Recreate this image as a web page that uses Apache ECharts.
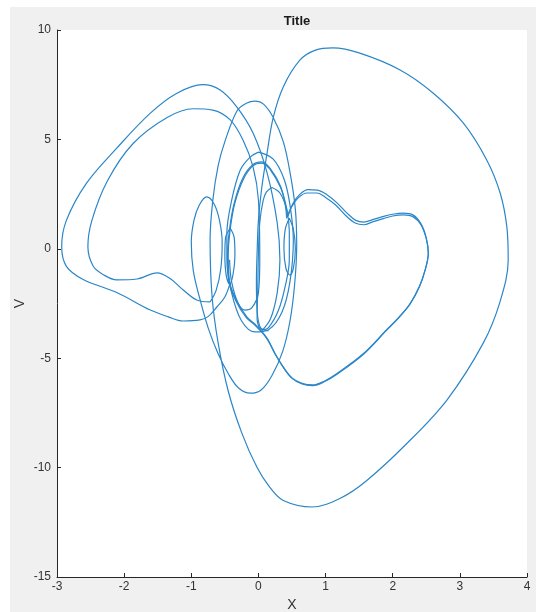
<!DOCTYPE html>
<html><head><meta charset="utf-8">
<script src="https://cdn.jsdelivr.net/npm/echarts@6/dist/echarts.min.js"></script>
<style>html,body{margin:0;padding:0;background:#fff}#c{width:536px;height:612px}</style>
</head><body><div id="c"></div>
<script>
// Axis ticks
const xTicks = [-3, -2, -1, 0, 1, 2, 3, 4];
const vTicks = [-15, -10, -5, 0, 5, 10];

// Trajectory strokes, [x, v]
const bigLoop = [[0.15,-3.75],[0.03,-3.6],[-0.02,-2.8],[-0.03,-1.5],[-0.02,-0.2],[0.0,1.3],[0.05,2.8],[0.13,4.4],[0.22,6.0],[0.37,7.4],[0.62,8.63],[0.85,9.08],[1.11,9.18],[1.51,8.94],[2.11,8.17],[2.6,7.12],[3.05,5.75],[3.4,4.06],[3.6,2.55],[3.7,1.0],[3.72,-0.51],[3.6,-2.4],[3.35,-4.3],[2.81,-6.9],[2.21,-8.9],[1.61,-10.6],[1.22,-11.4],[0.8,-11.8],[0.37,-11.5],[0.17,-10.9],[-0.02,-10.0],[-0.25,-8.4],[-0.45,-6.5],[-0.6,-4.3],[-0.69,-2.2],[-0.72,0.4],[-0.68,2.2],[-0.6,3.8],[-0.5,4.9],[-0.32,6.3],[-0.18,6.65],[-0.05,6.75],[0.08,6.6],[0.22,6.0],[0.37,4.9],[0.47,3.5],[0.55,1.8],[0.57,0.2],[0.54,-1.6],[0.47,-3.3],[0.36,-4.7],[0.2,-5.8],[0.04,-6.45],[-0.12,-6.6],[-0.3,-6.35],[-0.45,-5.7],[-0.6,-4.8],[-0.75,-3.6],[-0.88,-2.2],[-0.97,-1.0],[-1.0,0.3],[-0.96,1.3],[-0.88,2.0],[-0.77,2.37],[-0.66,2.05],[-0.58,1.3],[-0.54,0.3],[-0.56,-0.9],[-0.63,-1.9],[-0.72,-2.43]];
const innerLeft = [[-0.72,-2.43],[-0.92,-2.34],[-1.12,-1.88],[-1.32,-1.35],[-1.51,-1.1],[-1.81,-1.38],[-2.11,-1.42],[-2.3,-1.2],[-2.46,-0.8],[-2.54,0.1],[-2.48,1.3],[-2.25,3.1],[-1.87,4.8],[-1.36,6.0],[-0.97,6.4],[-0.68,6.34],[-0.42,5.89],[-0.23,4.97],[-0.08,3.74],[0.0,2.23],[0.02,-0.51],[0.0,-2.0],[-0.1,-2.7],[-0.2,-2.8],[-0.3,-2.5],[-0.4,-1.5],[-0.43,-0.5]];
const narrowLeft = [[-0.42,0.94],[-0.36,0.5],[-0.35,-0.3],[-0.38,-1.2],[-0.43,-1.6],[-0.48,-1.2],[-0.5,-0.3],[-0.49,0.5],[-0.42,0.94]];
const outerLeft = [[-0.42,-1.56],[-0.5,-2.2],[-0.62,-2.66],[-0.75,-3.1],[-0.87,-3.25],[-1.12,-3.3],[-1.35,-3.1],[-1.61,-2.8],[-2.11,-2.0],[-2.61,-1.4],[-2.86,-0.8],[-2.93,0.1],[-2.86,1.3],[-2.56,3.0],[-2.11,4.6],[-1.61,6.2],[-1.22,7.1],[-0.83,7.5],[-0.57,7.26],[-0.32,6.48],[-0.08,5.29],[0.13,3.46],[0.28,1.18],[0.32,-0.51],[0.28,-2.0],[0.18,-3.2],[0.05,-3.75]];
const ring44 = [[0.0,4.42],[0.22,4.1],[0.38,3.2],[0.47,2.0],[0.52,0.4],[0.47,-1.5],[0.35,-2.9],[0.15,-3.7],[-0.05,-3.8],[-0.25,-3.3],[-0.4,-2.0],[-0.47,-0.5],[-0.47,0.7],[-0.4,2.2],[-0.27,3.6],[-0.12,4.2],[0.0,4.42]];
const ring28 = [[0.2,2.8],[0.32,2.55],[0.42,1.8],[0.46,0.8],[0.46,-0.5],[0.4,-1.7],[0.3,-2.8],[0.15,-3.6],[0.05,-3.7],[-0.02,-3.2],[-0.01,-1.8],[0.0,-0.2],[0.02,1.2],[0.07,2.2],[0.12,2.6],[0.2,2.8]];
const narrowRight = [[0.46,1.4],[0.52,0.9],[0.55,0.0],[0.52,-0.9],[0.47,-1.2],[0.41,-0.9],[0.38,0.0],[0.4,0.9],[0.46,1.4]];
const heartA = [[0.44,1.5],[0.52,2.1],[0.62,2.5],[0.74,2.7],[0.88,2.68],[1.02,2.47],[1.17,2.1],[1.32,1.63],[1.45,1.3],[1.57,1.22],[1.7,1.33],[1.85,1.47],[2.0,1.58],[2.16,1.63],[2.3,1.55],[2.42,1.15],[2.5,0.5],[2.53,-0.2],[2.48,-1.0],[2.4,-1.7],[2.26,-2.5],[2.1,-3.1],[1.91,-3.7],[1.56,-4.8],[1.17,-5.7],[0.98,-6.05],[0.81,-6.22],[0.65,-6.15],[0.5,-5.9],[0.37,-5.4],[0.25,-4.8],[0.12,-4.05],[-0.05,-3.45],[-0.17,-3.12],[-0.32,-2.4],[-0.43,-1.5],[-0.45,-0.3],[-0.42,0.9],[-0.35,2.1],[-0.22,3.2],[-0.08,3.8],[0.05,3.92],[0.18,3.6],[0.33,2.8],[0.41,2.0],[0.44,1.5]];
const heartB = [[0.42,1.4],[0.5,1.95],[0.6,2.35],[0.72,2.55],[0.87,2.55],[1.0,2.35],[1.15,2.0],[1.3,1.52],[1.44,1.18],[1.57,1.1],[1.7,1.23],[1.86,1.38],[2.0,1.5],[2.16,1.55],[2.3,1.47],[2.42,1.1],[2.5,0.45],[2.53,-0.2],[2.48,-1.0],[2.4,-1.72],[2.26,-2.52],[2.1,-3.12],[1.91,-3.72],[1.56,-4.83],[1.17,-5.73],[0.98,-6.08],[0.81,-6.25],[0.65,-6.18],[0.5,-5.92],[0.37,-5.42],[0.25,-4.82],[0.12,-4.08],[-0.05,-3.5],[-0.18,-3.15],[-0.33,-2.42],[-0.44,-1.5],[-0.46,-0.3],[-0.43,0.9],[-0.36,2.1],[-0.23,3.25],[-0.08,3.85],[0.05,3.97],[0.18,3.65],[0.33,2.85],[0.4,2.0],[0.42,1.4]];

const strokes = [bigLoop, innerLeft, narrowLeft, outerLeft, ring44, ring28, narrowRight, heartA, heartB];

const chart = echarts.init(document.getElementById('c'), null, {renderer: 'canvas'});
const axisCol = '#333333';
const font = 'Liberation Sans, Arial, sans-serif';
chart.setOption({
  backgroundColor: '#ffffff',
  animation: false,
  graphic: [{type: 'rect', z: -10, shape: {x: 10, y: 7, width: 526, height: 605}, style: {fill: '#f0f0f0'}}],
  title: {text: 'Title', left: 292, top: 10, textAlign: 'center',
    textStyle: {fontFamily: font, fontSize: 13, fontWeight: 'bold', color: '#1a1a1a'}},
  grid: {left: 57, right: 9, top: 30, bottom: 35, containLabel: false, outerBoundsMode: 'none',
    show: true, backgroundColor: '#ffffff', borderWidth: 0},
  xAxis: {type: 'value', min: -3, max: 4, interval: 1, name: 'X', nameLocation: 'middle', nameGap: 20,
    nameTextStyle: {fontFamily: font, fontSize: 14, color: axisCol},
    axisLine: {show: true, onZero: false, lineStyle: {color: '#262626', width: 1}},
    axisTick: {show: true, inside: true, length: 4, lineStyle: {color: '#262626'}},
    axisLabel: {color: axisCol, fontFamily: font, fontSize: 12, margin: 4,
      formatter: v => xTicks.includes(v) ? String(v) : ''},
    splitLine: {show: false}},
  yAxis: {type: 'value', min: -15, max: 10, interval: 5, name: 'V', nameLocation: 'middle', nameGap: 30,
    nameMoveOverlap: false,
    nameTextStyle: {fontFamily: font, fontSize: 14, color: axisCol},
    axisLine: {show: true, onZero: false, lineStyle: {color: '#262626', width: 1}},
    axisTick: {show: true, inside: true, length: 4, lineStyle: {color: '#262626'}},
    axisLabel: {color: axisCol, fontFamily: font, fontSize: 12, margin: 6,
      formatter: v => vTicks.includes(v) ? String(v) : ''},
    splitLine: {show: false}},
  series: strokes.map(s => ({type: 'line', data: s, showSymbol: false, smooth: 0.35,
    lineStyle: {color: '#2a86c8', width: 1.2}, silent: true}))
});
</script></body></html>
